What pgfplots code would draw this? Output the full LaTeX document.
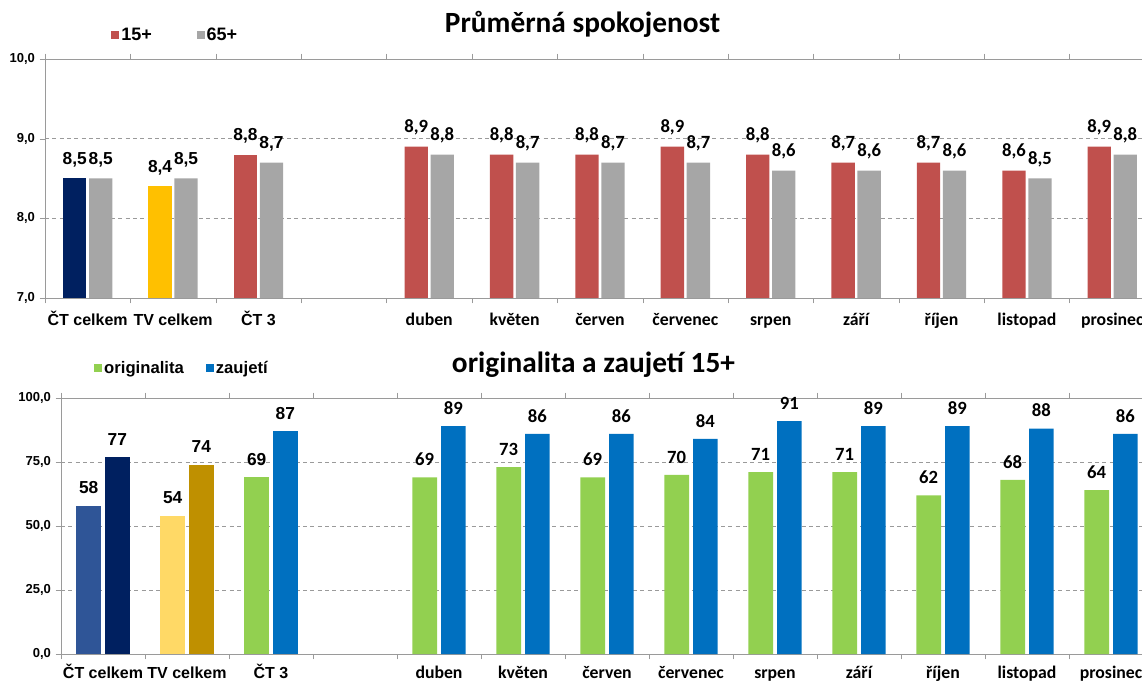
\documentclass[border=0pt]{standalone}
\usepackage{pgfplots}
\pgfplotsset{compat=1.18}
\usepackage{fontspec}
\setmainfont{Liberation Sans}
\newfontfamily\arial{Liberation Sans}
\newfontfamily\carl{Carlito}
\newcommand{\fs}[1]{\fontsize{#1}{#1}\selectfont}
\definecolor{navy}{HTML}{002060}
\definecolor{gold}{HTML}{FFC000}
\definecolor{redc}{HTML}{C0504D}
\definecolor{grayc}{HTML}{A6A6A6}
\definecolor{midblue}{HTML}{2F5597}
\definecolor{lgold}{HTML}{FFD966}
\definecolor{dgold}{HTML}{BF9000}
\definecolor{greenc}{HTML}{92D050}
\definecolor{bluec}{HTML}{0070C0}
\definecolor{axisg}{HTML}{9A9A9A}
\pgfplotsset{
  /pgf/number format/assume math mode=true,
  common/.style={
    scale only axis, anchor=south west, ybar,
    xmin=-0.5, xmax=12.5,
    axis line style={axisg},
    tick align=outside,
    major tick length=4pt,
    tick style={axisg},
    xtick={-0.5,0.5,...,12.5}, xticklabels=\empty,
    extra x ticks={0,1,2,4,5,6,7,8,9,10,11,12},
    extra x tick style={major tick length=0pt},
    xticklabel style={font=\carl\bfseries\fs{13.3}, text height=9.5pt, text depth=3pt},
    yticklabel style={font=\arial\bfseries\fs{9.75}, /pgf/number format/.cd, fixed, fixed zerofill, precision=1, use comma},
    ymajorgrids, grid style={axisg, dash pattern=on 3pt off 2.5pt},
    nodes near coords,
    every node near coord/.append style={font=\carl\bfseries\fs{14}, inner sep=2pt, yshift=6.5pt},
    legend image code/.code={\fill[##1] (0pt,-3pt) rectangle (6pt,3pt);},
    legend style={draw=none, fill=none, legend columns=2, inner sep=0pt,
      nodes={inner xsep=1.5pt, inner ysep=0pt}},
  },
  alab/.style={every node near coord/.append style={font=\arial\bfseries\fs{13}}},
}
\begin{document}
\begin{tikzpicture}
\useasboundingbox (0,0) rectangle (856.5pt,511.5pt);
\clip (0,0) rectangle (856.5pt,511.5pt);
% ---------- top chart ----------
\begin{axis}[common,
  at={(33.75pt,288pt)}, width=832.5pt, height=179.25pt,
  ymin=7, ymax=10, ytick={7,8,9,10},
  bar width=17.5pt,
  xticklabel style={yshift=-7.5pt},
  extra x tick labels={{\arial\fs{12}ČT celkem},{\arial\fs{12}TV celkem},{\arial\fs{12}ČT 3},duben,květen,červen,červenec,srpen,září,říjen,listopad,prosinec},
  nodes near coords={\pgfmathprintnumber[fixed,fixed zerofill,precision=1,use comma]{\pgfplotspointmeta}},
  legend style={at={(axis description cs:0.0595,1.1004)}, anchor=west, font=\arial\bfseries\fs{13.5},
    /tikz/every even column/.append style={column sep=32pt}},
]
\addplot[fill=navy, draw=none, bar shift=-9.75pt, alab, forget plot] coordinates {(0,8.5)};
\addplot[fill=gold, draw=none, bar shift=-9.75pt, alab, forget plot] coordinates {(1,8.4)};
\addplot[fill=redc, draw=none, bar shift=-9.75pt, alab, forget plot] coordinates {(2,8.8)};
\addplot[fill=redc, draw=none, bar shift=-9.75pt] coordinates {
  (4,8.9) (5,8.8) (6,8.8) (7,8.9) (8,8.8) (9,8.7) (10,8.7) (11,8.6) (12,8.9)};
\addlegendentry{15+}
\addplot[fill=grayc, draw=none, bar shift=9.75pt, alab, forget plot] coordinates {(0,8.5) (1,8.5) (2,8.7)};
\addplot[fill=grayc, draw=none, bar shift=9.75pt] coordinates {
  (4,8.8) (5,8.7) (6,8.7) (7,8.7) (8,8.6) (9,8.6) (10,8.6) (11,8.5) (12,8.8)};
\addlegendentry{65+}
\end{axis}
% ---------- bottom chart ----------
\begin{axis}[common,
  at={(45.75pt,21pt)}, width=819pt, height=192pt,
  ymin=0, ymax=100, ytick={0,25,50,75,100},
  bar width=18.5pt,
  xticklabel style={yshift=-5pt},
  extra x tick labels={{\arial\fs{12}ČT celkem},{\arial\fs{12}TV celkem},{\arial\fs{12}ČT 3},duben,květen,červen,červenec,srpen,září,říjen,listopad,prosinec},
  nodes near coords={\pgfmathprintnumber[fixed,precision=0]{\pgfplotspointmeta}},
  legend style={at={(axis description cs:0.0302,1.1172)}, anchor=west, font=\arial\bfseries\fs{12.5},
    /tikz/every even column/.append style={column sep=15pt}},
]
\addplot[fill=midblue, draw=none, bar shift=-10.75pt, alab, forget plot] coordinates {(0,58)};
\addplot[fill=lgold, draw=none, bar shift=-10.75pt, alab, forget plot] coordinates {(1,54)};
\addplot[fill=greenc, draw=none, bar shift=-10.75pt, alab, forget plot] coordinates {(2,69)};
\addplot[fill=greenc, draw=none, bar shift=-10.75pt] coordinates {
  (4,69) (5,73) (6,69) (7,70) (8,71) (9,71) (10,62) (11,68) (12,64)};
\addlegendentry{originalita}
\addplot[fill=navy, draw=none, bar shift=10.75pt, alab, forget plot] coordinates {(0,77)};
\addplot[fill=dgold, draw=none, bar shift=10.75pt, alab, forget plot] coordinates {(1,74)};
\addplot[fill=bluec, draw=none, bar shift=10.75pt, alab, forget plot] coordinates {(2,87)};
\addplot[fill=bluec, draw=none, bar shift=10.75pt] coordinates {
  (4,89) (5,86) (6,86) (7,84) (8,91) (9,89) (10,89) (11,88) (12,86)};
\addlegendentry{zaujetí}
\end{axis}
% titles
\node[anchor=base, font=\carl\bfseries\fs{22}] at (436.9pt,486.75pt) {Průměrná spokojenost};
\node[anchor=base, font=\carl\bfseries\fs{22}] at (445.1pt,231.75pt) {originalita a zaujetí 15+};
\end{tikzpicture}
\end{document}
